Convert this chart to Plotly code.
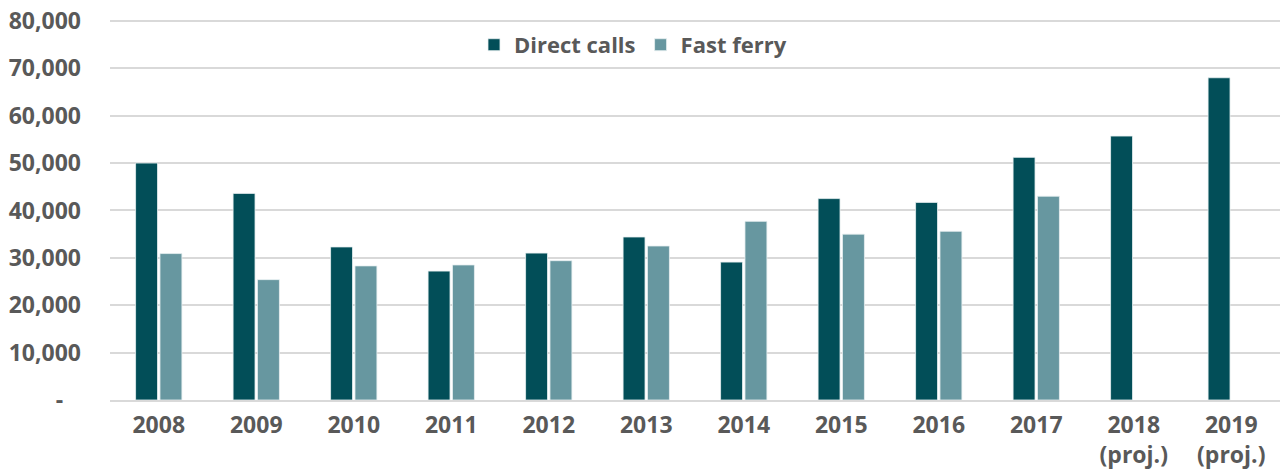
import plotly.graph_objects as go

categories = ["2008", "2009", "2010", "2011", "2012", "2013", "2014", "2015",
              "2016", "2017", "2018<br>(proj.)", "2019<br>(proj.)"]
direct_calls = [50000, 43600, 32300, 27200, 31000, 34400, 29100, 42500,
                41700, 51200, 55700, 68000]
fast_ferry = [30900, 25400, 28300, 28500, 29400, 32500, 37700, 35000,
              35600, 43000, None, None]
y_tickvals = [0, 10000, 20000, 30000, 40000, 50000, 60000, 70000, 80000]
y_ticktext = ["-\u00a0\u00a0\u00a0", "10,000", "20,000", "30,000", "40,000",
              "50,000", "60,000", "70,000", "80,000"]

FONT = "Open Sans, Noto Sans, sans-serif"
TXT = "#595959"

fig = go.Figure()
fig.add_trace(go.Bar(x=categories, y=direct_calls, name="Direct calls",
                     marker=dict(color="#024E58", line=dict(color="#E8F0F1", width=0.8))))
fig.add_trace(go.Bar(x=categories, y=fast_ferry, name="Fast ferry",
                     marker=dict(color="#6797A0", line=dict(color="#E8F0F1", width=0.8))))

fig.update_layout(
    width=1285, height=471,
    margin=dict(l=110, r=5, t=19, b=71),
    paper_bgcolor="white", plot_bgcolor="white",
    barmode="group", bargap=0.5, bargroupgap=0.1,
    font=dict(family=FONT, size=22, color=TXT),
    legend=dict(orientation="h", x=0.447, xanchor="center", y=0.932, yanchor="middle",
                bgcolor="white", font=dict(family=FONT, size=22, color=TXT, weight="bold"),
                itemwidth=30, traceorder="normal"),
    xaxis=dict(showline=True, linecolor="#D9D9D9", linewidth=1.5, showgrid=False,
               tickfont=dict(family=FONT, size=23, color=TXT, weight="bold"),
               ticks="", ticklabelstandoff=4, automargin=False),
    yaxis=dict(range=[0, 80400], tickvals=y_tickvals, ticktext=y_ticktext,
               showgrid=True, gridcolor="#D9D9D9", gridwidth=1.5, zeroline=False,
               tickfont=dict(family=FONT, size=23, color=TXT, weight="bold"),
               ticks="", ticklabelstandoff=28, automargin=False),
)

fig.write_html("out.html", config={"displayModeBar": False},
               post_script="document.body.style.margin='0';document.body.style.overflow='hidden';")
